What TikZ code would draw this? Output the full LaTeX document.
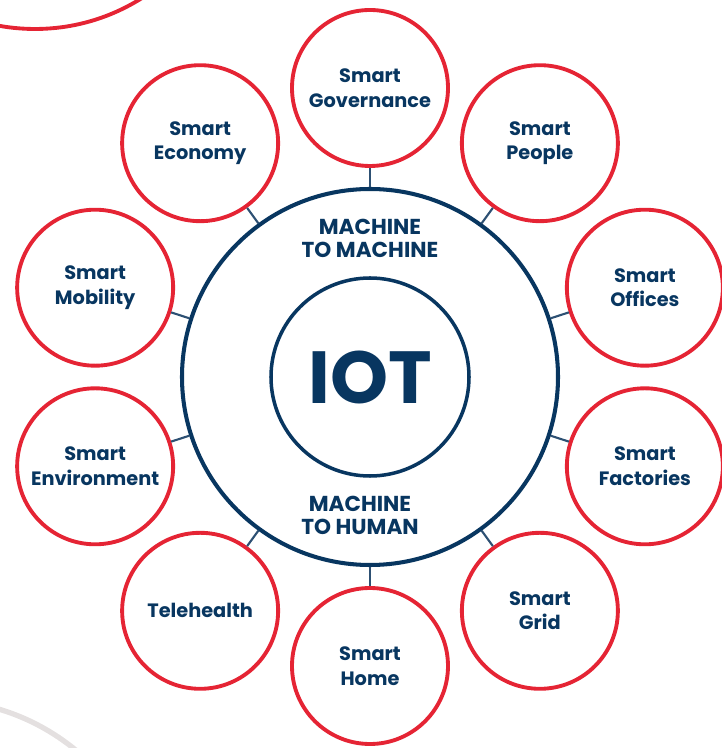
\documentclass[tikz,border=0pt]{standalone}
\usepackage{fontspec}
\setmainfont{Poppins}
\definecolor{iotnavy}{RGB}{8,54,96}
\definecolor{iotred}{RGB}{229,36,52}
\definecolor{iotline}{RGB}{45,80,115}
\definecolor{iotgray}{RGB}{228,224,224}
\begin{document}
\begin{tikzpicture}[x=1.0cm,y=1.0cm,
		font=\bfseries\fontsize{11}{14}\selectfont,
		smart/.style={circle,draw=iotred,line width=2.2pt,minimum size=3.12cm,inner sep=0pt,text=iotnavy,align=center},
		mode/.style={text=iotnavy,align=center,font=\bfseries\fontsize{12.3}{13}\selectfont},
		link/.style={draw=iotline,line width=1.2pt}]
		\useasboundingbox (-7.40,-7.42) rectangle (7.02,7.54);
		\draw[iotred,line width=2.2pt] (-6.70,10.96) circle (4.0);
		\draw[iotgray,line width=3pt] (-8.68,-10.86) circle (4.4);
		\node[circle,draw=iotnavy,line width=2.3pt,minimum size=7.52cm] (m2m) at (0,0) {};
		\node[circle,draw=iotnavy,line width=2pt,minimum size=3.96cm,text=iotnavy,font=\bfseries\fontsize{42}{42}\selectfont] (iot) at (0,0) {IOT};
		\node[mode] (mtm) at (0,2.78) {MACHINE\\TO MACHINE};
		\node[mode] (mth) at (-0.2,-2.76) {MACHINE\\TO HUMAN};
		\foreach \a/\n/\t in {90/gov/Smart\\Governance,54/people/Smart\\People,18/offices/Smart\\Offices,-18/factories/Smart\\Factories,-54/grid/Smart\\Grid,-90/home/Smart\\Home,-126/health/Telehealth,-162/environment/Smart\\Environment,162/mobility/Smart\\Mobility,126/economy/Smart\\Economy}{
			\node[smart] (\n) at (\a:5.78) {\t};
			\draw[link] (m2m) -- (\n);
		}
		\end{tikzpicture}
\end{document}
